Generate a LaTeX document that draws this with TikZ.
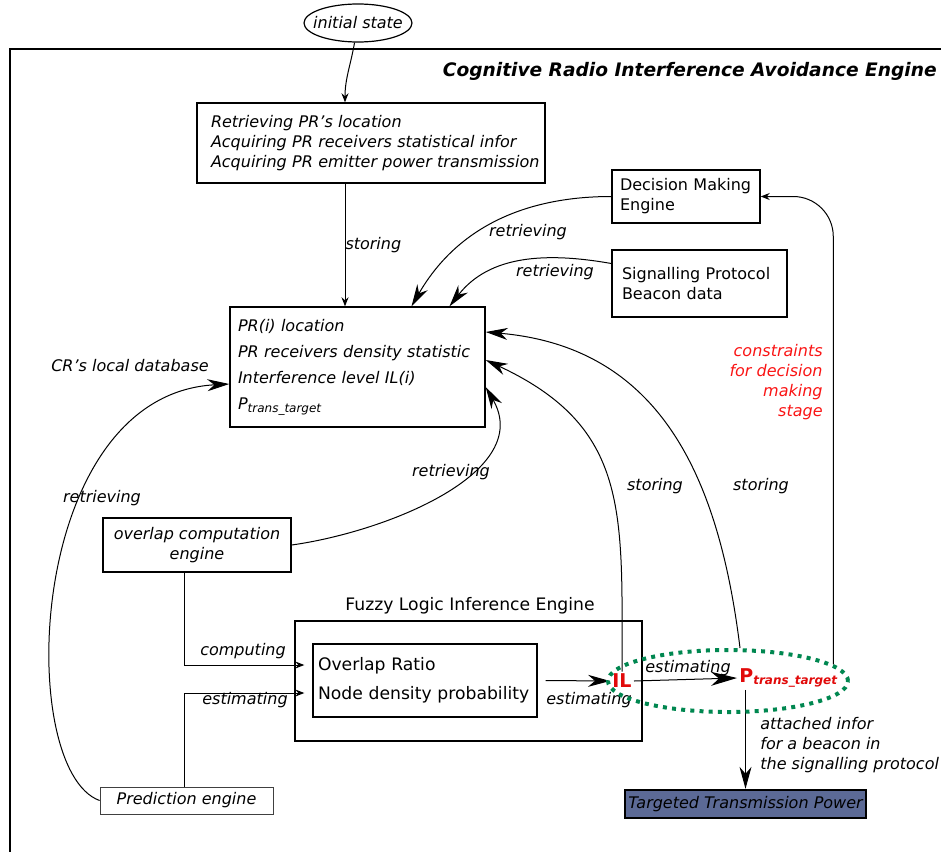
\documentclass[tikz,border=0pt]{standalone}
\usepackage[rgb]{xcolor}
\usepackage{tikz}
\usepackage{fontspec}
\setmainfont{DejaVu Sans}
\usetikzlibrary{arrows.meta,shapes.geometric}

\definecolor{beaconblue}{RGB}{92,106,150}
\definecolor{ringgreen}{RGB}{0,135,80}
\definecolor{ilred}{RGB}{225,10,10}
\definecolor{notered}{RGB}{250,20,20}

\begin{document}
\begin{tikzpicture}[x=0.5pt, y=-0.5pt,
  every node/.style={font=\fontsize{8}{10}\selectfont},
  lbl/.style={font=\fontsize{8}{10}\selectfont\itshape},
  blk/.style={draw, line width=0.7pt, inner ysep=0pt},
  link/.style={line width=0.5pt},
  bigtip/.style={-{Stealth[length=11pt, width=6pt, inset=3.5pt]}},
  hugetip/.style={-{Stealth[length=13pt, width=7pt, inset=4pt]}},
  smalltip/.style={-{Stealth[length=4.5pt, width=3.5pt]}}
]

\useasboundingbox (0,0) rectangle (941,851);

% engine frame
\draw[line width=0.75pt] (10,880) |- (960,49);
\path (937,71) node[anchor=east, inner sep=0pt, font=\fontsize{9.3}{11}\selectfont\bfseries\itshape] (title) {Cognitive Radio Interference Avoidance Engine};


% initial state and acquisition
\path
(358,23) node[draw, ellipse, line width=0.6pt, minimum width=54pt, minimum height=19pt, inner sep=0pt, lbl] (init) {\makebox[20pt]{initial state}}
(371,143) node[blk, lbl, inner xsep=2pt, minimum width=174pt, minimum height=40pt, text width=170pt, align=left] (acq) {\hspace*{5pt}Retrieving PR's location\\ \hspace*{5pt}Acquiring PR receivers statistical infor\\ \hspace*{5pt}Acquiring PR emitter power transmission};

\draw[link, smalltip] (init.-100) to[out=-100, in=90] ([xshift=-13pt]acq.north);


% local database
\path
(357.5,367) node[blk, lbl, inner xsep=4pt, minimum width=127.5pt, minimum height=60pt, text width=119.5pt, align=left] (db) {PR(i) location\\[3pt] PR receivers density statistic\\[3pt] Interference level IL(i)\\[3pt] P\textsubscript{trans\_target}}
(130,366) node[lbl] (crdb) {CR's local database};

\draw[link, smalltip] ([xshift=-13pt]acq.south) -- ([xshift=-13pt]acq.south |- db.north) node[midway, right, lbl, inner sep=0pt] (store1) {storing};


% decision and signalling
\path
(686,196.5) node[blk, inner xsep=4pt, minimum width=74pt, minimum height=26.5pt, text width=66pt, align=left] (dme) {Decision Making\\ Engine}
(699.5,283.5) node[blk, inner xsep=5pt, minimum width=87.5pt, minimum height=33.5pt, text width=77.5pt, align=left] (spb) {Signalling Protocol\\ Beacon data}
(528,232) node[lbl] (ret1) {retrieving}
(555,272) node[lbl] (ret2) {retrieving};

\draw[link, bigtip] (dme.west) to[out=180, in=60] ([xshift=27pt]db.north);
\draw[link, bigtip] ([yshift=10pt]spb.west) to[out=170, in=52] ([xshift=46pt]db.north);


% overlap and prediction
\path
(197,545) node[blk, lbl, minimum width=94pt, minimum height=27pt, align=center] (oce) {overlap computation\\ engine}
(186.5,800.5) node[draw=black!75, line width=0.4pt, lbl, minimum width=86.5pt, minimum height=13.5pt, inner sep=0pt] (pred) {Prediction engine}
(451,472) node[lbl] (ret3) {retrieving}
(102,498) node[lbl] (ret4) {retrieving};

\draw[link, bigtip] (oce.east) to[out=8, in=-60] ([yshift=-10pt]db.east);
\draw[link, bigtip] (pred.west) .. controls (15,770) and (25,395) .. ([yshift=-8.5pt]db.west);


% fuzzy logic inference engine
\path
(468.5,681) node[blk, minimum width=173.5pt, minimum height=60pt] (fuzzy) {}
(470,606) node[font=\fontsize{8.6}{10}\selectfont] (fuzzylbl) {Fuzzy Logic Inference Engine}
(425,680.5) node[blk, font=\fontsize{8.6}{14.5}\selectfont, inner xsep=2.5pt, minimum width=112pt, minimum height=36.5pt, text width=107pt, align=left] (inner) {Overlap Ratio\\ Node density probability}
(243,651) node[lbl] (comp) {computing}
(245,700) node[lbl] (est1) {estimating};

\draw[link, smalltip] ([xshift=-6.5pt]oce.south) |- ([xshift=-4pt, yshift=7.75pt]inner.west);
\draw[link, smalltip] ([xshift=-1.25pt]pred.north) |- ([xshift=-4pt, yshift=-6.25pt]inner.west);


% IL and target power
\path
(622,681) node[text=ilred, font=\fontsize{9.5}{10}\selectfont\bfseries, inner sep=1pt] (il) {IL}
(737,678) node[anchor=west, text=ilred, font=\fontsize{9.5}{10}\selectfont\bfseries, inner sep=1pt] (pt) {P\textsubscript{\fontsize{6}{6}\selectfont\itshape trans\_target}}
(589,700) node[lbl] (est2) {estimating}
(688,668) node[lbl] (est3) {estimating}
(745.5,804) node[draw, line width=1.2pt, fill=beaconblue, lbl, minimum width=120.5pt, minimum height=14pt, inner sep=0pt] (target) {Targeted Transmission Power}
(760,745) node[anchor=west, lbl, inner sep=0pt, align=left] (attach) {attached infor\\ for a beacon in\\ the signalling protocol}
(823,382) node[anchor=east, lbl, inner sep=0pt, text=notered, align=right] (note) {constraints\\ for decision\\ making\\ stage}
(655,486) node[lbl] (store2) {storing}
(761,486) node[lbl] (store3) {storing};

\draw[link, bigtip] ([xshift=4pt]inner.east) -- (il.west);
\draw[link, hugetip] (il.east) -- (pt.west);
\draw[link, bigtip] (target.north |- pt.south) -- (target.north);
\draw[link, bigtip] (il.north) to[out=90, in=-25, looseness=1.2] ([yshift=3.5pt]db.east);

\node[ellipse, draw=ringgreen, line width=2pt, dash pattern=on 2pt off 2.6pt, minimum width=120pt, minimum height=31pt] (ring) at (728,681) {};

\draw[link, bigtip] ([xshift=6pt]ring.north) to[out=97, in=-5, looseness=1.1] ([yshift=17.5pt]db.east);
\draw[link, smalltip, rounded corners=20pt] (ring.9) |- (dme.east);

\end{tikzpicture}
\end{document}
